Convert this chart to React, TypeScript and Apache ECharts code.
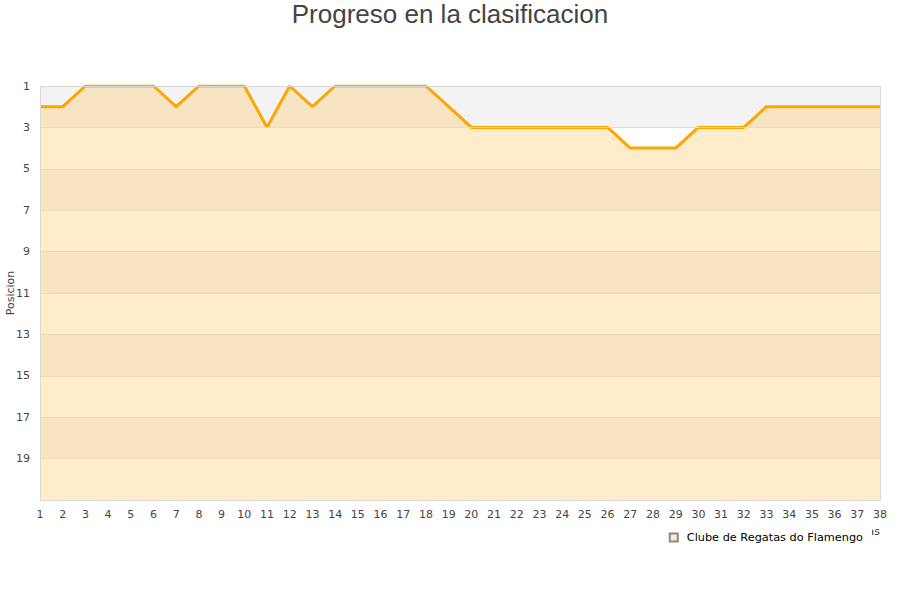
import React, { useEffect, useRef } from "react";
import * as echarts from "echarts";

const TITLE = "Progreso en la clasificacion";
const TEAM = "Clube de Regatas do Flamengo";
const ROUNDS = Array.from({ length: 38 }, (_, i) => String(i + 1));
const POSITIONS = [
  2, 2, 1, 1, 1, 1, 2, 1, 1, 1, 3, 1, 2, 1, 1, 1, 1, 1, 2, 3,
  3, 3, 3, 3, 3, 3, 4, 4, 4, 3, 3, 3, 2, 2, 2, 2, 2, 2,
];
const Y_MIN = 1;
const Y_MAX = 21;
const Y_STEP = 2;
const BAND_DARK = "#f6e4c3";
const BAND_LIGHT = "#feecca";
const BORDER = "#d9d9d9";

function bandStops() {
  const n = (Y_MAX - Y_MIN) / Y_STEP;
  const stops: { offset: number; color: string }[] = [];
  for (let i = 0; i < n; i++) {
    const c = i % 2 === 0 ? BAND_DARK : BAND_LIGHT;
    stops.push({ offset: i / n, color: c });
    stops.push({ offset: (i + 1) / n, color: c });
  }
  return stops;
}

const FONT = "DejaVu Sans, Verdana, sans-serif";

const yBase = {
  type: "value",
  inverse: true,
  min: Y_MIN,
  max: Y_MAX,
  interval: Y_STEP,
  axisTick: { show: false },
};

export default function App() {
  const ref = useRef<HTMLDivElement>(null);
  useEffect(() => {
    if (!ref.current) return;
    const chart = echarts.init(ref.current, undefined, { renderer: "svg" });
    chart.setOption({
      animation: false,
      backgroundColor: "#ffffff",
      title: {
        text: TITLE,
        left: "center",
        top: -4,
        textStyle: {
          fontFamily: "Liberation Sans, Arial, sans-serif",
          fontSize: 26,
          fontWeight: "normal",
          color: "#444444",
        },
      },
      grid: {
        left: 40,
        right: 20,
        top: 86,
        bottom: 100,
        outerBoundsMode: "none",
        containLabel: false,
        show: false,
      },
      legend: {
        data: [{ name: TEAM, icon: "rect" }],
        right: 28,
        top: 524,
        itemWidth: 8,
        itemHeight: 8,
        itemGap: 6,
        backgroundColor: "#ffffff",
        padding: [8, 9, 8, 8],
        z: 6,
        textStyle: {
          fontFamily: FONT,
          fontSize: 11.3,
          color: "#000000",
          padding: [0, 0, 0, 4],
        },
      },
      xAxis: [
        {
          type: "category",
          data: ROUNDS,
          boundaryGap: false,
          z: 5,
          name: "Jornadas",
          nameLocation: "end",
          nameGap: 0,
          nameMoveOverlap: false,
          nameTextStyle: {
            fontFamily: FONT,
            fontSize: 11,
            color: "#444444",
            align: "right",
            verticalAlign: "top",
            padding: [26, 0, 0, 0],
          },
          axisLine: { show: true, lineStyle: { color: BORDER, width: 1 } },
          axisTick: { show: false },
          axisLabel: {
            interval: 0,
            margin: 9,
            fontFamily: FONT,
            fontSize: 11,
            color: "#444444",
          },
          splitLine: { show: false },
        },
        {
          type: "category",
          data: ROUNDS,
          boundaryGap: false,
          position: "top",
          z: 5,
          axisLine: { show: true, lineStyle: { color: BORDER, width: 1 } },
          axisTick: { show: false },
          axisLabel: { show: false },
          splitLine: { show: false },
        },
      ],
      yAxis: [
        {
          ...yBase,
          z: 5,
          name: "Posicion",
          nameLocation: "middle",
          nameGap: 24,
          nameMoveOverlap: false,
          nameRotate: 90,
          nameTextStyle: {
            fontFamily: FONT,
            fontSize: 11,
            color: "#444444",
          },
          axisLine: { show: true, lineStyle: { color: BORDER, width: 1 } },
          axisLabel: {
            showMaxLabel: false,
            margin: 10,
            fontFamily: FONT,
            fontSize: 11,
            color: "#444444",
          },
          splitLine: { show: true, lineStyle: { color: "#ebd9b8", width: 1 } },
          splitArea: { show: false },
        },
        {
          ...yBase,
          position: "right",
          z: 5,
          axisLine: { show: true, lineStyle: { color: BORDER, width: 1 } },
          axisLabel: { show: false },
          splitLine: { show: false },
          splitArea: { show: false },
        },
        {
          ...yBase,
          position: "right",
          z: 0,
          axisLine: { show: false },
          axisLabel: { show: false },
          splitLine: { show: false },
          splitArea: { show: true, areaStyle: { color: ["#f3f3f3", "#ffffff"] } },
        },
      ],
      series: [
        {
          name: TEAM,
          type: "line",
          data: POSITIONS,
          xAxisIndex: 0,
          yAxisIndex: 0,
          symbol: "none",
          lineStyle: { color: "#ffa500", width: 3 },
          itemStyle: { color: BAND_LIGHT, borderColor: "#888888", borderWidth: 1 },
          areaStyle: {
            origin: "end",
            opacity: 1,
            color: new echarts.graphic.LinearGradient(0, 0, 0, 1, bandStops()),
          },
          z: 2,
        },
      ],
    });
    return () => chart.dispose();
  }, []);
  return (
    <div
      ref={ref}
      style={{ position: "fixed", left: 0, top: 0, width: 900, height: 600 }}
    />
  );
}
